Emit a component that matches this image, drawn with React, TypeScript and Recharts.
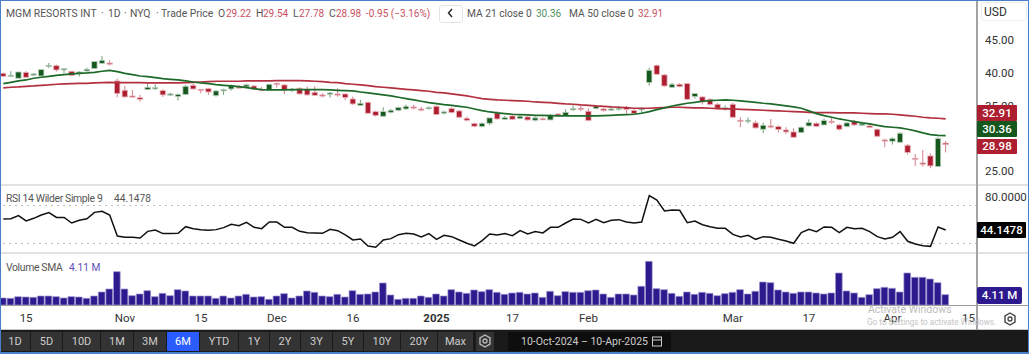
import React from "react";
import { ComposedChart, Bar, Line, XAxis, YAxis, ReferenceLine } from "recharts";

const opens = [
39.90,39.44,39.14,40.05,39.65,39.49,40.92,41.07,40.51,40.21,
39.95,40.26,40.61,41.43,41.48,38.73,37.30,36.43,36.18,37.40,
37.66,37.25,36.64,36.33,36.64,38.06,37.45,37.55,36.48,37.25,
37.50,37.81,37.81,37.96,37.45,37.30,38.37,38.12,37.40,37.61,
37.45,36.99,36.59,36.69,36.74,36.74,35.97,35.00,35.46,34.04,
33.32,33.93,34.24,34.44,34.75,34.44,34.55,34.85,33.78,34.49,
34.14,33.02,32.20,31.74,32.25,33.83,32.86,33.37,32.96,33.22,
32.71,32.96,32.76,33.68,33.42,34.34,34.55,34.09,34.49,34.44,
34.39,34.44,34.65,34.19,34.44,38.47,41.12,39.65,37.76,38.22,
38.32,36.33,36.28,35.92,35.16,34.60,35.16,32.71,32.66,32.30,
31.33,31.84,31.74,31.23,30.92,30.82,31.84,32.25,31.99,32.56,
31.99,31.74,32.50,31.94,31.84,31.33,29.70,29.50,29.34,28.88,
26.89,26.18,27.25,25.62,29.22];
const highs = [
40.00,40.21,40.10,40.21,39.95,40.46,41.48,41.23,40.61,40.21,
40.26,40.72,41.69,42.55,41.89,39.08,37.96,37.35,36.59,38.27,
38.22,37.45,36.94,36.84,38.12,38.27,37.45,37.66,37.30,37.55,
38.17,38.06,38.32,38.12,37.81,38.22,38.47,38.22,37.66,37.76,
37.86,37.91,36.84,37.04,37.61,36.74,36.33,35.82,35.56,34.19,
34.70,34.44,34.80,35.11,35.06,34.80,34.85,35.00,34.19,34.70,
34.29,33.27,32.35,32.35,33.07,34.09,33.37,33.53,33.58,33.37,
33.27,33.17,33.68,33.78,34.39,35.00,34.90,34.55,35.00,34.60,
34.75,34.90,34.90,34.49,34.70,40.72,41.23,39.80,38.42,38.37,
38.37,36.89,36.38,36.08,35.31,35.00,35.41,33.17,33.12,32.66,
32.35,32.91,31.94,31.64,31.48,31.74,32.86,32.40,32.96,33.17,
32.15,32.45,32.76,32.50,32.15,31.43,29.90,30.11,30.87,29.09,
27.56,28.17,27.66,30.11,29.54];
const lows = [
39.34,39.34,39.14,39.19,39.49,39.49,40.72,40.16,39.90,39.54,
39.39,40.16,40.61,41.33,41.07,36.23,36.18,36.23,35.56,37.35,
37.35,36.28,36.43,35.72,36.64,37.40,36.84,36.59,36.33,36.59,
37.25,37.55,37.71,37.35,37.15,37.30,37.71,36.74,37.04,36.69,
36.48,36.43,36.23,36.18,36.33,35.82,35.06,34.90,33.68,33.27,
33.27,33.78,34.14,34.29,34.39,34.09,34.39,33.53,33.58,33.78,
33.02,32.56,31.64,31.64,31.99,32.81,32.76,32.76,32.86,32.66,
32.56,32.76,32.71,33.37,33.37,34.19,34.09,32.56,34.39,34.03,
34.14,34.19,33.73,33.58,33.78,38.01,39.65,37.86,37.66,37.76,
35.82,36.02,35.11,34.95,34.39,34.19,33.12,31.64,32.25,31.43,
30.72,31.48,30.82,30.62,30.06,30.77,31.74,31.69,31.94,32.15,
31.13,31.64,31.84,31.84,31.48,30.11,28.58,28.99,29.29,27.46,
25.72,25.62,25.36,25.57,27.78];
const closes = [
39.44,39.59,40.10,39.29,39.80,40.46,41.12,40.41,40.61,39.54,
40.10,40.51,41.69,41.89,41.43,36.79,36.28,36.38,35.92,37.76,
37.71,36.59,36.74,36.64,37.91,37.50,37.25,37.04,37.20,37.40,
38.01,37.71,38.12,37.45,37.40,38.22,38.17,37.35,37.45,36.74,
36.59,36.53,36.48,36.89,36.69,36.18,35.21,35.31,33.78,33.42,
34.04,34.24,34.65,34.85,34.65,34.39,34.65,33.58,33.99,33.88,
33.17,32.71,31.79,32.25,33.07,32.91,33.12,32.86,33.32,32.76,
33.07,32.91,33.47,33.47,33.93,34.49,34.49,32.66,34.90,34.19,
34.44,34.55,34.34,33.73,34.49,40.36,39.75,37.96,38.22,37.86,
35.92,36.79,35.51,35.11,34.55,34.65,33.17,32.61,32.71,31.54,
31.94,31.74,31.28,30.92,30.11,31.64,32.35,31.79,32.66,32.50,
31.33,32.30,31.99,32.15,31.59,30.26,29.55,29.90,30.72,27.76,
26.84,25.98,25.72,29.90,28.98];
const ma21 = [
38.32,38.52,38.73,38.88,39.14,39.29,39.44,39.59,39.70,39.80,39.90,39.95,40.05,40.21,40.36,
40.16,39.90,39.70,39.49,39.39,39.24,39.08,38.98,38.88,38.73,38.57,38.42,38.32,38.17,38.06,
37.96,37.86,37.71,37.55,37.40,37.35,37.35,37.35,37.40,37.40,37.40,37.40,37.40,37.35,37.30,37.25,
37.20,37.04,36.89,36.74,36.59,36.43,36.23,36.02,35.82,35.62,35.41,35.26,35.11,35.00,34.85,34.70,
34.44,34.19,33.98,33.83,33.73,33.63,33.58,33.53,33.47,33.47,33.42,33.37,33.37,33.37,33.37,33.37,33.37,
33.42,33.47,33.53,33.58,33.63,33.78,34.03,34.34,34.60,34.90,35.11,35.31,
35.46,35.62,35.72,35.77,35.82,35.77,35.67,35.56,35.46,35.31,35.21,35.06,34.90,34.75,34.55,34.14,33.73,
33.42,33.17,32.91,32.71,32.50,32.30,32.15,31.94,31.74,31.64,31.54,31.33,31.08,30.77,30.52,30.41,30.36];
const ma50 = [
37.66,37.76,37.81,37.91,37.96,38.06,38.12,38.22,38.27,38.32,38.37,38.37,38.42,38.47,38.52,
38.47,38.47,38.47,38.47,38.42,38.42,38.42,38.42,38.42,38.47,38.52,38.57,38.62,38.68,38.68,38.68,38.68,
38.73,38.73,38.73,38.73,38.78,38.78,38.78,38.78,38.73,38.68,38.62,38.52,38.47,38.32,
38.22,38.12,38.01,37.86,37.76,37.66,37.55,37.45,37.35,37.25,37.15,36.99,36.89,36.74,36.59,36.43,36.23,36.02,
35.92,35.82,35.77,35.72,35.67,35.62,35.51,35.46,35.41,35.31,35.21,35.16,35.06,35.00,34.90,34.85,34.75,34.70,
34.65,34.55,34.55,34.55,34.60,34.65,34.70,34.70,34.65,
34.60,34.60,34.55,34.49,34.44,34.44,34.39,34.34,34.29,34.24,34.19,34.14,34.09,34.03,33.98,33.93,33.88,33.88,33.88,
33.83,33.83,33.83,33.78,33.73,33.68,33.68,33.63,33.53,33.42,33.32,33.17,33.07,33.02,32.91];
const rsi = [
55.8,56.1,59.3,53.7,56.5,60.0,62.5,57.5,57.5,51.6,
54.4,56.1,62.8,63.9,60.0,37.9,36.5,36.5,35.8,42.8,
44.2,40.4,40.4,40.7,47.7,45.6,44.6,43.9,44.6,46.7,
50.2,48.8,52.3,47.0,45.6,52.6,52.6,47.0,47.0,42.8,
41.4,41.1,40.7,44.9,43.5,39.0,
33.7,34.7,27.4,26.0,33.7,35.1,39.3,40.7,40.0,36.8,
40.4,34.4,38.6,37.2,33.7,30.2,27.4,33.0,40.0,39.0,
40.4,38.2,43.5,40.0,42.5,41.1,47.0,47.0,51.6,55.8,
55.4,51.6,55.4,51.9,54.4,55.1,52.6,51.6,52.6,80.4,
75.8,64.2,65.3,64.9,51.9,
53.7,49.8,47.7,46.0,46.0,39.6,36.8,38.6,34.4,37.2,
36.5,34.4,32.6,30.2,41.4,44.9,42.5,47.4,47.0,41.4,
47.0,45.6,46.0,42.5,37.2,34.7,36.5,42.5,32.3,29.5,
27.7,27.0,47.4,44.15];
const volume = [
2.79,2.65,3.32,3.18,3.05,3.58,3.58,3.32,2.79,3.32,
3.18,2.65,3.58,5.17,6.37,13.26,6.37,3.71,4.38,5.70,
3.32,4.64,3.71,6.10,5.57,3.58,3.58,3.58,2.65,3.58,
2.79,3.58,4.24,3.18,3.32,2.25,3.58,4.51,2.79,3.58,
5.57,5.04,3.58,3.32,4.24,3.18,
5.70,4.24,4.38,5.17,8.75,3.98,2.25,2.65,2.65,3.58,
3.05,4.38,3.58,6.10,5.17,4.64,5.97,5.31,6.10,5.04,
4.24,4.77,5.04,4.38,4.77,3.05,5.44,3.71,5.31,5.04,
5.04,5.70,5.97,4.38,3.05,4.38,4.38,3.98,7.43,17.37,
6.50,6.10,4.64,3.45,5.17,
4.24,5.04,4.64,3.71,4.51,5.04,6.10,4.38,5.44,9.15,
8.89,5.97,5.17,4.64,5.17,5.17,4.77,4.38,4.77,12.73,
5.57,4.77,3.05,4.11,6.50,7.03,6.63,5.17,12.73,11.01,
11.01,10.34,8.89,4.11];

const tickPositions = [3, 16, 26, 36, 46, 57, 67, 77, 96, 106, 117, 127];
const tickLabels = ["15", "Nov", "15", "Dec", "16", "2025", "17", "Feb", "Mar", "17", "Apr", "15"];
const priceTicks = [25, 35, 40, 45];
const rangeButtons = ["1D", "5D", "10D", "1M", "3M", "6M", "YTD", "1Y", "2Y", "3Y", "5Y", "10Y", "20Y", "Max"];
const buttonEdges = [0, 31, 63, 101, 134, 167, 200, 239, 270, 301, 333, 364, 401, 438, 474];

const rows = opens.map((open, i) => ({
  i, open, high: highs[i], low: lows[i], close: closes[i],
  range: [lows[i], highs[i]], ma21: ma21[i], ma50: ma50[i], rsi: rsi[i], volume: volume[i],
}));

const FONT = "Roboto, sans-serif";
const RED = "#ad1f30";
const GREEN = "#14581d";
const RED_TEXT = "#c9525f";
const GREEN_TEXT = "#4f8f5b";
const XDOMAIN: [number, number] = [-0.434, 128.12];

function Candle(props: any) {
  const { x, y, width, height, payload } = props;
  if (!payload) return null;
  const k = height / (payload.high - payload.low || 1);
  const up = payload.close >= payload.open;
  const top = y + (payload.high - Math.max(payload.open, payload.close)) * k;
  const h = Math.max(Math.abs(payload.open - payload.close) * k, 1.2);
  const cx = x + width / 2;
  return (
    <g>
      <line x1={cx} x2={cx} y1={y} y2={y + height} stroke={up ? "#6f9c78" : "#d07e89"} strokeWidth={1} />
      <rect x={x} y={top} width={width} height={h} fill={up ? GREEN : RED}
        stroke={up ? "#bcd0bf" : "#eab9bf"} strokeWidth={0.8} />
    </g>
  );
}

function XTick(props: any) {
  const { x, y, payload } = props;
  const label = tickLabels[tickPositions.indexOf(payload.value)];
  return (
    <text x={x} y={y + 9} textAnchor="middle" fontFamily={FONT} fontSize={11.5}
      fontWeight={label === "2025" ? 700 : 400} fill="#333">{label}</text>
  );
}

function RightTick(props: any) {
  const { y, payload, fmt } = props;
  return (
    <text x={985} y={y + 4.5} fontFamily={FONT} fontSize={11.5} fill="#333">{fmt(payload.value)}</text>
  );
}

function T(p: { x: number; y: number; c?: string; s?: number; ls?: number; children: any }) {
  return (
    <span style={{ position: "absolute", left: p.x, top: p.y, fontSize: p.s ?? 10.4, color: p.c ?? "#555", letterSpacing: p.ls ?? 0,
      whiteSpace: "pre", lineHeight: "14px", fontFamily: FONT }}>{p.children}</span>
  );
}

function Tag(p: { y: number; h: number; w: number; bg: string; r?: number; children: any }) {
  return (
    <div style={{ position: "absolute", left: 977, top: p.y, width: p.w, height: p.h, background: p.bg, color: "#fff",
      fontSize: 11.5, fontWeight: 500, fontFamily: FONT, lineHeight: `${p.h}px`, textAlign: "center", borderRadius: p.r ?? 1 }}>{p.children}</div>
  );
}

function Rule(p: { y: number; c?: string; h?: number; w?: number }) {
  return <div style={{ position: "absolute", left: 0, top: p.y, width: p.w ?? 1029, height: p.h ?? 2, background: p.c ?? "#e2e2e2" }} />;
}

function Gear(p: { x: number; y: number; c: string }) {
  return (
    <svg style={{ position: "absolute", left: p.x, top: p.y }} width="16" height="16" viewBox="0 0 16 16">
      <polygon points="8,2 13,5 13,11 8,14 3,11 3,5" fill="none" stroke={p.c} strokeWidth="1.4" />
      <circle cx="8" cy="8" r="2" fill="none" stroke={p.c} strokeWidth="1.3" />
    </svg>
  );
}

export default function App() {
  const lastO = opens[opens.length - 1], lastH = highs[highs.length - 1], lastL = lows[lows.length - 1], lastC = closes[closes.length - 1];
  const lastMa21 = ma21[ma21.length - 1], lastMa50 = ma50[ma50.length - 1], lastVol = volume[volume.length - 1];
  return (
    <div style={{ position: "absolute", left: 0, top: 0, width: 1029, height: 354, background: "#fff", overflow: "hidden", fontFamily: FONT }}>
      <div style={{ position: "absolute", left: 0, top: 0 }}>
        <ComposedChart width={1029} height={185} data={rows} margin={{ top: 0, right: 0, bottom: 0, left: 0 }}>
          <XAxis dataKey="i" type="number" domain={XDOMAIN} allowDataOverflow hide />
          <YAxis orientation="right" width={52} domain={[22.8, 51.12]} ticks={priceTicks} axisLine={false} tickLine={false}
            tick={<RightTick fmt={(v: number) => v.toFixed(2)} />} />
          <Bar dataKey="range" barSize={5.4} shape={<Candle />} isAnimationActive={false} />
          <Line dataKey="ma50" stroke="#b3303f" strokeWidth={1.7} dot={false} isAnimationActive={false} />
          <Line dataKey="ma21" stroke="#1e6a2a" strokeWidth={1.7} dot={false} isAnimationActive={false} />
        </ComposedChart>
      </div>
      <div style={{ position: "absolute", left: 0, top: 185 }}>
        <ComposedChart width={1029} height={68} data={rows} margin={{ top: 0, right: 0, bottom: 0, left: 0 }}>
          <XAxis dataKey="i" type="number" domain={XDOMAIN} allowDataOverflow hide />
          <YAxis orientation="right" width={52} domain={[20, 91.58]} ticks={[80]} axisLine={false} tickLine={false}
            tick={<RightTick fmt={(v: number) => v.toFixed(4)} />} />
          <ReferenceLine y={70} stroke="#bdbdbd" strokeDasharray="2 4" strokeWidth={1.2} />
          <ReferenceLine y={30} stroke="#bdbdbd" strokeDasharray="2 4" strokeWidth={1.2} />
          <Line dataKey="rsi" stroke="#111" strokeWidth={1.5} dot={false} isAnimationActive={false} />
        </ComposedChart>
      </div>
      <div style={{ position: "absolute", left: 0, top: 253 }}>
        <ComposedChart width={1029} height={77} data={rows} margin={{ top: 0, right: 0, bottom: 0, left: 0 }}>
          <XAxis dataKey="i" type="number" domain={XDOMAIN} allowDataOverflow ticks={tickPositions} height={25} interval={0}
            axisLine={false} tickLine={false} tick={<XTick />} />
          <YAxis orientation="right" width={52} domain={[0, 20.69]} ticks={[]} axisLine={false} tickLine={false} />
          <Bar dataKey="volume" barSize={6.7} fill="#2c1a8e" stroke="#9d95d3" strokeWidth={0.7} isAnimationActive={false} />
        </ComposedChart>
      </div>

      <Rule y={184} />
      <Rule y={252} />
      <Rule y={305} c="#9a9a9a" h={1} />
      <Rule y={329} c="#c8c8c8" h={1} />
      <div style={{ position: "absolute", left: 976, top: 0, width: 2, height: 330, background: "#a3a3a3" }} />

      <T x={6} y={7}>MGM RESORTS INT</T><T x={101} y={7}>·</T>
      <T x={108} y={7}>1D</T><T x={124} y={7}>·</T>
      <T x={130} y={7}>NYQ</T><T x={156} y={7}>·</T>
      <T x={161} y={7}>Trade Price</T>
      <T x={218} y={7}>O</T><T x={226} y={7} c={RED_TEXT} s={10}>{lastO.toFixed(2)}</T>
      <T x={256} y={7}>H</T><T x={263} y={7} c={RED_TEXT} s={10}>{lastH.toFixed(2)}</T>
      <T x={293} y={7}>L</T><T x={299} y={7} c={RED_TEXT} s={10}>{lastL.toFixed(2)}</T>
      <T x={329} y={7}>C</T><T x={336} y={7} c={RED_TEXT} s={10}>{lastC.toFixed(2)}</T>
      <T x={366} y={7} c={RED_TEXT} s={10}>-0.95 (−3.16%)</T>
      <div style={{ position: "absolute", left: 439, top: 5, width: 22, height: 16, border: "1px solid #e3e3e3", borderRadius: 3, background: "#fff" }} />
      <svg style={{ position: "absolute", left: 446, top: 8 }} width="10" height="10"><polyline points="6,1 2.5,5 6,9" fill="none" stroke="#222" strokeWidth="1.4" /></svg>
      <T x={467} y={7} s={10.2}>MA 21 close 0</T><T x={536} y={7} c={GREEN_TEXT} s={10}>{lastMa21.toFixed(2)}</T>
      <T x={569} y={7} s={10.2}>MA 50 close 0</T><T x={638} y={7} c={RED_TEXT} s={10}>{lastMa50.toFixed(2)}</T>

      <T x={6} y={192} ls={-0.35}>RSI 14 Wilder Simple 9</T><T x={114} y={192} s={10.2}>44.1478</T>
      <T x={6} y={261} ls={-0.35}>Volume SMA</T><T x={69} y={261} c="#5d50b8" s={10.2}>{lastVol.toFixed(2)} M</T>

      <div style={{ position: "absolute", left: 981, top: 2, width: 46, height: 19, border: "1px solid #eee", borderRadius: 3, fontSize: 12, lineHeight: "19px", color: "#333", paddingLeft: 2, boxSizing: "border-box" }}>USD</div>
      <Tag y={105} h={16} w={40} bg={RED}>{lastMa50.toFixed(2)}</Tag>
      <Tag y={121} h={16} w={40} bg={GREEN}>{lastMa21.toFixed(2)}</Tag>
      <Tag y={139} h={15} w={40} bg={RED}>{lastC.toFixed(2)}</Tag>
      <Tag y={222} h={16} w={49} bg="#000">44.1478</Tag>
      <Tag y={287} h={17} w={45} bg="#2c1a8e" r={2}>{lastVol.toFixed(2)} M</Tag>
      <Gear x={1002} y={311} c="#444" />

      <T x={868} y={303} c="#bdbdbd" s={10.5}>Activate Windows</T>
      <T x={867} y={315} c="#c4c4c4" s={8.2}>Go to Settings to activate Windows.</T>

      <div style={{ position: "absolute", left: 0, top: 330, width: 1029, height: 22, background: "#1a1a1a" }} />
      {rangeButtons.map((b, k) => (
        <div key={b} style={{ position: "absolute", left: buttonEdges[k], top: 332, width: buttonEdges[k + 1] - buttonEdges[k] - 1, height: 19,
          background: b === "6M" ? "#2b5cff" : "#333", color: b === "6M" ? "#fff" : "#ccc", fontSize: 11, lineHeight: "19px", textAlign: "center", fontFamily: FONT }}>{b}</div>
      ))}
      <div style={{ position: "absolute", left: 476, top: 332, width: 18, height: 19, background: "#333" }} />
      <Gear x={477} y={333} c="#bbb" />
      <div style={{ position: "absolute", left: 508, top: 332, width: 163, height: 19, background: "#0e0e0e", color: "#ccc", fontSize: 10.5, lineHeight: "19px", paddingLeft: 13, boxSizing: "border-box", whiteSpace: "pre" }}>10-Oct-2024 – 10-Apr-2025</div>
      <svg style={{ position: "absolute", left: 651, top: 335 }} width="12" height="12"><rect x="1.5" y="2" width="9" height="9" fill="none" stroke="#ccc" /><line x1="1.5" x2="10.5" y1="5" y2="5" stroke="#ccc" /></svg>

      <div style={{ position: "absolute", left: 0, top: 352, width: 1029, height: 2, background: "#4a7fc9" }} />
      <div style={{ position: "absolute", left: 0, top: 0, width: 1, height: 354, background: "#4a7fc9" }} />
      <div style={{ position: "absolute", left: 0, top: 0, width: 1029, height: 1, background: "#4a7fc9" }} />
      <div style={{ position: "absolute", left: 1028, top: 0, width: 1, height: 354, background: "#4a7fc9" }} />
    </div>
  );
}
